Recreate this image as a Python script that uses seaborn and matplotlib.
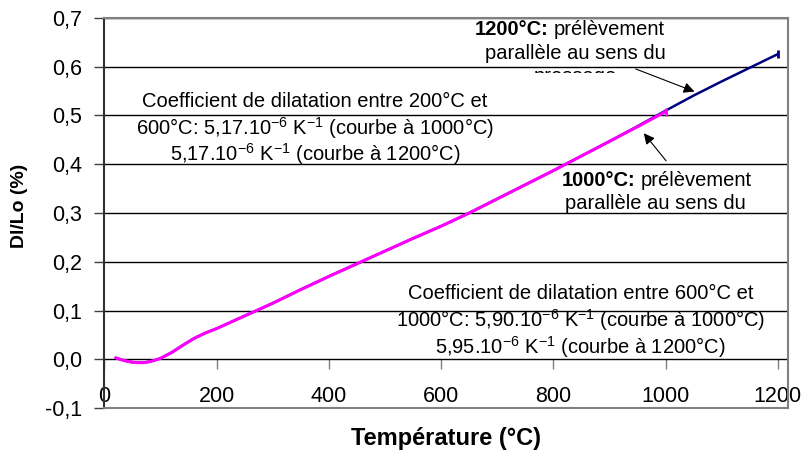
import matplotlib
matplotlib.use("Agg")
import matplotlib.pyplot as plt
import matplotlib.ticker as mticker
from matplotlib.transforms import Bbox, TransformedBbox
import seaborn as sns

# courbe a 1000 C (magenta)
temp_1000 = [20, 30, 40, 50, 60, 70, 80, 90, 100, 120, 140, 160, 180, 200, 250,
             300, 350, 400, 450, 500, 550, 600, 650, 700, 750, 800, 850, 900, 950, 1000]
dl_1000 = [0.003, -0.001, -0.004, -0.006, -0.007, -0.007, -0.005, -0.002, 0.002, 0.014,
           0.029, 0.043, 0.054, 0.063, 0.089, 0.115, 0.143, 0.170, 0.196, 0.222,
           0.248, 0.273, 0.300, 0.329, 0.358, 0.387, 0.417, 0.447, 0.477, 0.508]

# courbe a 1200 C (bleu)
temp_1200 = [20, 30, 40, 50, 60, 70, 80, 90, 100, 120, 140, 160, 180, 200, 250,
             300, 350, 400, 450, 500, 550, 600, 650, 700, 750, 800, 850, 900, 950, 1000,
             1050, 1100, 1150, 1200]
dl_1200 = [0.003, -0.001, -0.004, -0.006, -0.007, -0.007, -0.005, -0.002, 0.002, 0.014,
           0.029, 0.043, 0.054, 0.063, 0.089, 0.115, 0.143, 0.170, 0.196, 0.222,
           0.248, 0.273, 0.300, 0.329, 0.358, 0.387, 0.417, 0.447, 0.478, 0.510,
           0.541, 0.570, 0.598, 0.626]

x_ticks = [0, 200, 400, 600, 800, 1000, 1200]
y_ticks = [-0.1, 0.0, 0.1, 0.2, 0.3, 0.4, 0.5, 0.6, 0.7]

sns.set_style("white")
plt.rcParams['font.family'] = ['Liberation Sans', 'DejaVu Sans']
plt.rcParams['text.color'] = 'black'
plt.rcParams['axes.labelcolor'] = 'black'
plt.rcParams['xtick.labelcolor'] = 'black'
plt.rcParams['ytick.labelcolor'] = 'black'
plt.rcParams['mathtext.fontset'] = 'custom'
plt.rcParams['mathtext.rm'] = 'Liberation Sans'
plt.rcParams['mathtext.it'] = 'Liberation Sans:italic'
plt.rcParams['mathtext.bf'] = 'Liberation Sans:bold'

fig = plt.figure(figsize=(8.03, 4.59), dpi=100)
ax = fig.add_axes([0.1301, 0.1111, 0.8512, 0.8497])

sns.lineplot(x=temp_1200, y=dl_1200, ax=ax, color='#000080', linewidth=1.8,
             sort=False, estimator=None, marker='|', markevery=[len(temp_1200) - 1],
             markersize=6, markeredgewidth=2, markeredgecolor='#000080')
sns.lineplot(x=temp_1000, y=dl_1000, ax=ax, color='#FF00FF', linewidth=2.2,
             sort=False, estimator=None, marker='|', markevery=[len(temp_1000) - 1],
             markersize=6, markeredgewidth=2, markeredgecolor='#FF00FF')

ax.set_xlim(0, 1218)
ax.set_ylim(-0.1, 0.7)
ax.set_yticks(y_ticks)
ax.yaxis.set_major_formatter(mticker.FuncFormatter(lambda v, p: f"{v:.1f}".replace('.', ',')))
ax.tick_params(axis='y', direction='out', length=7, width=1, color='#404040',
               labelsize=15.5, pad=9, left=True, labelcolor='black')
ax.tick_params(axis='x', length=0, labelbottom=False)
ax.yaxis.grid(True, color='black', linewidth=1)
ax.xaxis.grid(False)

for side in ['top', 'right', 'bottom']:
    ax.spines[side].set_color('#808080')
    ax.spines[side].set_linewidth(1.5)
ax.spines['left'].set_color('#303030')
ax.spines['left'].set_linewidth(1.5)

# axe des x place sur y = 0
sec = ax.secondary_xaxis(0.125)
sec.set_xticks(x_ticks)
sec.tick_params(axis='x', direction='out', length=7, width=1, color='#808080',
                labelsize=15.5, pad=12, labelcolor='black')
sec.spines['bottom'].set_visible(False)

ax.set_xlabel('Température (°C)', fontsize=17, fontweight='bold', labelpad=14, color='black')
ax.set_ylabel('Dl/Lo (%)', fontsize=14, fontweight='bold', color='black')
ax.yaxis.set_label_coords(-0.112, 0.518)

fs = 14.5
# 1200 C
ax.text(792, 0.6756, '1200°C:', ha='right', va='center', fontsize=fs, fontweight='bold')
ax.text(800, 0.6756, 'prélèvement', ha='left', va='center', fontsize=fs)
ax.text(840, 0.628, 'parallèle au sens du', ha='center', va='center', fontsize=fs)
t3 = ax.text(839, 0.581, 'pressage', ha='center', va='center', fontsize=fs)
t3.set_clip_box(TransformedBbox(Bbox([[600, 0.587], [1100, 0.7]]), ax.transData))
t3.set_clip_on(True)
ax.annotate('', xy=(1056, 0.547), xytext=(942, 0.5975),
            arrowprops=dict(arrowstyle='-|>', color='black', lw=0.8, mutation_scale=16))

# 1000 C
ax.text(947, 0.3676, '1000°C:', ha='right', va='center', fontsize=fs, fontweight='bold')
ax.text(955, 0.3676, 'prélèvement', ha='left', va='center', fontsize=fs)
ax.text(981, 0.3203, 'parallèle au sens du', ha='center', va='center', fontsize=fs)
ax.annotate('', xy=(958, 0.468), xytext=(1004, 0.4025),
            arrowprops=dict(arrowstyle='-|>', color='black', lw=0.8, mutation_scale=16))

sup6 = r'$^{\mathregular{-6}}$'
sup1 = r'$^{\mathregular{-1}}$'
# coefficients 200-600
ax.text(375, 0.5277, 'Coefficient de dilatation entre 200°C et', ha='center', va='center', fontsize=fs)
ax.text(375, 0.4743, '600°C: 5,17.10' + sup6 + ' K' + sup1 + ' (courbe à 1000°C)',
        ha='center', va='center', fontsize=fs)
ax.text(375, 0.421, '5,17.10' + sup6 + ' K' + sup1 + ' (courbe à 1200°C)',
        ha='center', va='center', fontsize=fs)
# coefficients 600-1000
ax.text(848, 0.1355, 'Coefficient de dilatation entre 600°C et', ha='center', va='center', fontsize=fs)
ax.text(848, 0.0801, '1000°C: 5,90.10' + sup6 + ' K' + sup1 + ' (courbe à 1000°C)',
        ha='center', va='center', fontsize=fs)
ax.text(848, 0.0246, '5,95.10' + sup6 + ' K' + sup1 + ' (courbe à 1200°C)',
        ha='center', va='center', fontsize=fs)

fig.savefig('out.png', dpi=100)
